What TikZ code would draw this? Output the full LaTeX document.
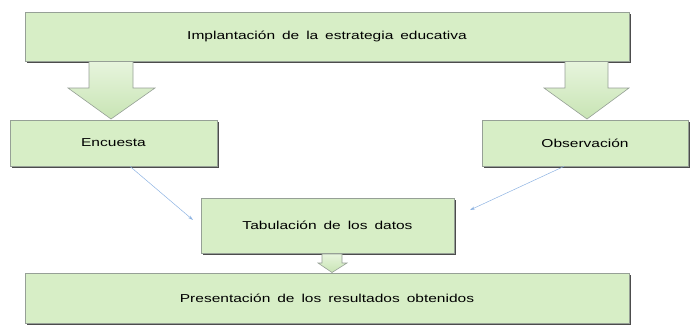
\documentclass[tikz,border=0pt]{standalone}
\usepackage{fontspec}
\setmainfont{Liberation Sans}[FakeStretch=1.35, WordSpace=1.6]
\usetikzlibrary{arrows.meta,shadows}

\definecolor{boxgreen}{RGB}{215,238,198}
\definecolor{arrowgreen}{RGB}{200,228,180}
\definecolor{edgegray}{RGB}{150,160,150}
\definecolor{linkblue}{RGB}{141,179,226}

\tikzset{
	stepbox/.style={draw=edgegray, fill=boxgreen, line width=0.8pt,
		drop shadow={shadow xshift=1.5pt, shadow yshift=-1.5pt, fill=black!70, opacity=1},
		font=\fontsize{11.5}{13}\selectfont, inner sep=0pt},
	fatarrow/.style={draw=edgegray, line width=0.6pt, top color=boxgreen!60, bottom color=arrowgreen},
	link/.style={linkblue, line width=0.5pt, -{Stealth[length=5pt,width=3pt]}}
}

\begin{document}
\begin{tikzpicture}[x=1pt, y=-1pt]
		
		\useasboundingbox (0,0) rectangle (690,324);
		
		% cajas
		\node [stepbox, minimum width=604pt, minimum height=49pt] (impl) at (327,36.5) {Implantación de la estrategia educativa};
		\node [stepbox, minimum width=207pt, minimum height=46pt] (enc) at (113.5,143) {Encuesta};
		\node [stepbox, minimum width=206pt, minimum height=46pt] (obs) at (585,143) {Observación};
		\node [stepbox, minimum width=253pt, minimum height=55pt] (tab) at (327.5,225.5) {Tabulación de los datos};
		\node [stepbox, minimum width=604pt, minimum height=50pt] (pres) at (327,298) {Presentación de los resultados obtenidos};
		
		% flechas gruesas
		\draw [fatarrow] (89,61.5) -- (89,88) -- (68,88) -- (111,119) -- (155,88) -- (133,88) -- (133,61.5) -- cycle;
		\draw [fatarrow] (565,61.5) -- (565,88) -- (544,88) -- (587,119) -- (629,88) -- (608,88) -- (608,61.5) -- cycle;
		\draw [fatarrow] (322,254) -- (322,263) -- (318,263) -- (332,272.5) -- (347,263) -- (342,263) -- (342,254) -- cycle;
		
		% flechas finas
		\coordinate (tabin1) at (193,220);
		\coordinate (tabin2) at (470,210);
		\draw [link] ([xshift=16.5pt]enc.south) -- (tabin1);
		\draw [link] ([xshift=-21pt]obs.south) -- (tabin2);
		
	\end{tikzpicture}
\end{document}
